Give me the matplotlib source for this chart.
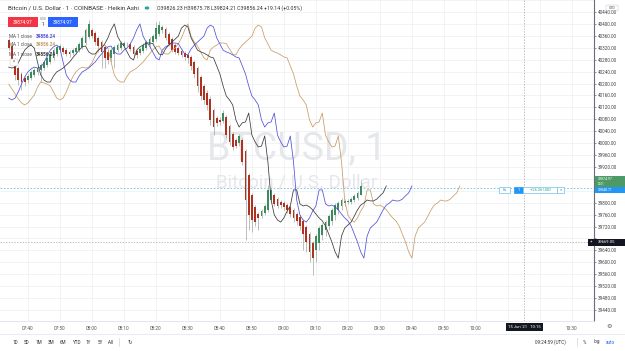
import matplotlib
matplotlib.use("Agg")
import matplotlib.pyplot as plt
from matplotlib.patches import Rectangle, FancyBboxPatch, Circle
import numpy as np

# ---------------- data ----------------
time_labels = ["07:40", "07:50", "08:00", "08:10", "08:20", "08:30", "08:40", "08:50", "09:00",
               "09:10", "09:20", "09:30", "09:40", "09:50", "10:00", "10:10", "10:20", "10:30"]
hidden_time_labels = ["10:10", "10:20"]      # covered by the crosshair date label
price_ticks = [39440 + 40 * i for i in range(26)]
hidden_price_labels = [39680, 39840, 39880]  # covered by the price / crosshair labels

first_bar = -6          # minutes after 07:40 of the first visible Heikin Ashi bar (07:34)

# Heikin Ashi closes of the 31 bars before the visible window (seen only through the offset MAs)
pre_close = [40198, 40182, 40165, 40148, 40135, 40128, 40135, 40148, 40161, 40188,
             40205, 40202, 40198, 40192, 40172, 40151, 40145, 40151, 40172, 40198,
             40222, 40239, 40249, 40255, 40252, 40255, 40269, 40292, 40312, 40323, 40329]

ha_open = [40346, 40326, 40279, 40252, 40232, 40219, 40212, 40219, 40229, 40239,
           40245, 40252, 40262, 40272, 40286, 40299, 40312, 40319, 40312, 40306,
           40302, 40306, 40312, 40323, 40336, 40356, 40380, 40370, 40353, 40339,
           40323, 40306, 40286, 40299, 40312, 40319, 40326, 40331, 40333, 40323, 40309,
           40302, 40309, 40319, 40329, 40339, 40349, 40366, 40380, 40383, 40366,
           40349, 40329, 40319, 40309, 40302, 40296, 40289, 40272, 40252, 40222,
           40192, 40168, 40148, 40111, 40084, 40078, 40074, 40088, 40057, 40031,
           40010, 40000, 40010, 39974, 39893, 39826, 39786, 39762, 39755, 39765,
           39776, 39809, 39826, 39812, 39802, 39799, 39792, 39786, 39776, 39762,
           39752, 39739, 39718, 39695, 39665, 39641, 39665, 39692, 39708, 39722,
           39739, 39759, 39776, 39789, 39799, 39802, 39802, 39809, 39816, 39826.23]
ha_close = [40319, 40272, 40229, 40212, 40205, 40205, 40225, 40239, 40245, 40252,
            40262, 40272, 40286, 40299, 40312, 40323, 40326, 40306, 40299, 40299,
            40312, 40319, 40333, 40353, 40380, 40400, 40359, 40339, 40326, 40306,
            40286, 40279, 40312, 40323, 40329, 40336, 40336, 40334, 40316, 40299, 40296,
            40316, 40329, 40339, 40349, 40359, 40386, 40396, 40390, 40353, 40333,
            40312, 40306, 40302, 40296, 40289, 40286, 40259, 40232, 40192, 40158,
            40145, 40128, 40078, 40054, 40068, 40071, 40101, 40027, 40004, 39987,
            39990, 40024, 39937, 39809, 39759, 39742, 39735, 39749, 39772, 39789,
            39843, 39843, 39796, 39789, 39792, 39786, 39776, 39762, 39749, 39739,
            39722, 39695, 39668, 39635, 39614, 39688, 39715, 39725, 39735, 39755,
            39776, 39792, 39799, 39809, 39806, 39806, 39812, 39823, 39833, 39856.24]
ha_high = [40353, 40333, 40286, 40259, 40239, 40225, 40232, 40245, 40252, 40259,
           40269, 40279, 40292, 40306, 40319, 40329, 40333, 40326, 40319, 40312,
           40319, 40326, 40339, 40359, 40386, 40413, 40386, 40376, 40359, 40346,
           40329, 40312, 40319, 40329, 40336, 40343, 40343, 40340, 40339, 40329, 40316,
           40323, 40336, 40346, 40356, 40366, 40406, 40410, 40396, 40390, 40373,
           40356, 40336, 40326, 40316, 40309, 40302, 40296, 40279, 40259, 40229,
           40198, 40178, 40158, 40118, 40091, 40088, 40111, 40094, 40064, 40037,
           40017, 40031, 40017, 39980, 39900, 39833, 39792, 39769, 39779, 39796,
           39859, 39849, 39833, 39819, 39809, 39806, 39799, 39792, 39782, 39769,
           39759, 39745, 39725, 39702, 39671, 39695, 39722, 39732, 39742, 39762,
           39782, 39799, 39806, 39816, 39812, 39812, 39819, 39829, 39839, 39875.78]
ha_low = [40312, 40266, 40212, 40195, 40178, 40192, 40202, 40212, 40222, 40229,
          40205, 40245, 40255, 40266, 40279, 40292, 40306, 40299, 40292, 40289,
          40296, 40299, 40306, 40316, 40329, 40349, 40353, 40329, 40306, 40252,
          40252, 40266, 40272, 40252, 40306, 40312, 40319, 40326, 40309, 40292, 40286,
          40296, 40302, 40312, 40323, 40333, 40343, 40359, 40370, 40346, 40326,
          40306, 40299, 40296, 40289, 40279, 40269, 40245, 40219, 40172, 40145,
          40131, 40111, 40061, 40027, 40057, 40061, 40068, 40017, 39994, 39977,
          39984, 39990, 39927, 39675, 39708, 39702, 39722, 39708, 39749, 39759,
          39769, 39802, 39789, 39782, 39782, 39776, 39765, 39752, 39735, 39725,
          39708, 39641, 39635, 39601, 39557, 39601, 39641, 39675, 39688, 39708,
          39725, 39742, 39762, 39776, 39789, 39796, 39796, 39802, 39809, 39824.21]

ma_offsets = {"blue": 16, "tan": 31, "black": 8}
ma_colors = {"blue": "#5050d8", "tan": "#c99b66", "black": "#3a3a3a"}
ma_value = "39856.24"
last_price = 39874.97
position_price = 39848.71
cross_price = 39669.05
cross_time = 155        # 10:15
ohlc_text = "O39826.23 H39875.78 L39824.21 C39856.24 +19.14 (+0.05%)"

# ---------------- figure ----------------
W, H = 625, 351
plt.rcParams['font.family'] = ['Roboto', 'DejaVu Sans']
fig = plt.figure(figsize=(W / 100, H / 100), dpi=100)
fig.patch.set_facecolor('white')

PANE_R, PANE_B = 594, 321
ax = fig.add_axes([0, 1 - PANE_B / H, PANE_R / W, PANE_B / H])
ax.set_facecolor('white')
px_per_min = 3.2
x0_pix = 27.9
ax.set_xlim(-x0_pix / px_per_min, (PANE_R - x0_pix) / px_per_min)
ax.set_ylim(40440 - (PANE_B - 12) * 3.356, 40440 + 12 * 3.356)


def fx(x):
    return x / W


def fy(y):
    return 1 - y / H


# grid
for i in range(-1, 19):
    ax.axvline(10 * i, color='#f0f1f4', lw=0.6, zorder=0)
for p in range(39400, 40481, 40):
    ax.axhline(p, color='#f0f1f4', lw=0.6, zorder=0)

# watermark
ax.text(0.5, 0.535, "BTCUSD, 1", transform=ax.transAxes, ha='center', va='center',
        fontsize=27, color='#e6e7ea', zorder=0.5)
ax.text(0.5, 0.43, "Bitcoin / U.S. Dollar", transform=ax.transAxes, ha='center', va='center',
        fontsize=13.5, color='#e6e7ea', zorder=0.5)

# candles
t_vis = np.arange(first_bar, first_bar + len(ha_close))
o = np.array(ha_open); c = np.array(ha_close)
hi = np.array(ha_high); lo = np.array(ha_low)
up = c >= o
col = np.where(up, '#3b8b5c', '#b1311f')
ax.vlines(t_vis, lo, hi, color='#9a9a9a', lw=0.45, zorder=2)
body = np.maximum(np.abs(c - o), 3.0)
ax.bar(t_vis, body, bottom=np.minimum(o, c), width=0.62, color=col, lw=0, zorder=3)

# MA(1, close) lines with forward offsets
all_close = np.array(pre_close + ha_close)
all_t = np.arange(first_bar - len(pre_close), first_bar + len(ha_close))
for name in ["tan", "blue", "black"]:
    tt = all_t + ma_offsets[name]
    m = tt >= first_bar
    ax.plot(tt[m], all_close[m], color=ma_colors[name], lw=0.55, zorder=4)

# position line & crosshair
ax.axhline(position_price, color='#6fc3e6', lw=0.6, ls=(0, (2, 2)), zorder=1)
ax.axhline(cross_price, color='#a0a3ab', lw=0.5, ls=(0, (2, 2)), zorder=1)
ax.axvline(cross_time, color='#a0a3ab', lw=0.5, ls=(0, (2, 2)), zorder=1)

# axes styling
for s in ['top', 'left']:
    ax.spines[s].set_visible(False)
ax.spines['bottom'].set_color('#e0e3eb')
ax.spines['bottom'].set_linewidth(0.6)
ax.spines['right'].set_color('#6a6d78')
ax.spines['right'].set_linewidth(0.8)
ax.yaxis.tick_right()
ax.set_yticks(price_ticks)
ax.set_yticklabels(["" if p in hidden_price_labels else f"{p:.2f}" for p in price_ticks])
ax.tick_params(axis='y', length=1.5, width=0.4, pad=1.5, labelsize=3.3, colors='#444', left=False)
ax.set_xticks([10 * i for i in range(len(time_labels))])
ax.set_xticklabels(["" if s in hidden_time_labels else s for s in time_labels])
ax.tick_params(axis='x', length=0, pad=3.5, labelsize=3.4, colors='#555')

# ---------- overlays in pixel coordinates ----------
def box(x, y, w, h, fc, ec='none', lw=0.5, z=10):
    fig.add_artist(Rectangle((fx(x), fy(y + h)), w / W, h / H, transform=fig.transFigure,
                             facecolor=fc, edgecolor=ec, lw=lw, zorder=z))


def txt(x, y, s, size=3.6, color='#222', ha='left', z=11, **kw):
    fig.text(fx(x), fy(y), s, fontsize=size, color=color, ha=ha, va='center', zorder=z, **kw)


# header
txt(8, 8, "Bitcoin / U.S. Dollar · 1 · COINBASE · Heikin Ashi", 4.5, '#333')
fig.add_artist(Circle((fx(147), fy(8)), 1.6 / W, transform=fig.transFigure, color='#26a69a', zorder=11))
txt(157, 8, ohlc_text, 3.75, '#333')
box(8, 17, 30, 10, '#f23645')
txt(23, 22, f"{last_price:.2f}", 3.4, 'white', ha='center')
txt(43, 18.5, "0.00", 2.4, '#777', ha='center')
txt(43, 24.5, "1", 3.4, '#222', ha='center')
box(48, 17, 30, 10, '#2962ff')
txt(63, 22, f"{last_price:.2f}", 3.4, 'white', ha='center')
for yy, name in zip([36, 45, 54], ["blue", "tan", "black"]):
    txt(9, yy, "MA 1 close", 3.3, '#555')
    txt(36, yy, ma_value, 3.3, ma_colors[name], weight='bold')
fig.add_artist(FancyBboxPatch((fx(10), fy(66)), 8 / W, 7 / H, boxstyle="round,pad=0,rounding_size=0.004",
                              transform=fig.transFigure, facecolor='white', edgecolor='#d0d3da', lw=0.4, zorder=11))
txt(14, 62.5, "^", 3.5, '#444', ha='center')

# right scale labels
txt(612, 8, "USD", 2.6, '#555', ha='center')
fig.add_artist(FancyBboxPatch((fx(606), fy(11)), 12 / W, 6 / H, boxstyle="round,pad=0,rounding_size=0.003",
                              transform=fig.transFigure, facecolor='none', edgecolor='#c8cbd3', lw=0.4, zorder=11))
box(595, 176.5, 30, 10.5, '#4e9a66')
txt(598, 179.2, f"{last_price:.2f}", 2.5, 'white')
txt(598, 184.3, "00:01", 2.0, 'white')
box(595, 187.2, 30, 6, '#2196f3')
txt(598, 190.4, f"{position_price:.2f}", 2.5, 'white')
box(595, 238.5, 30, 7, '#131722')
txt(598, 242, f"{cross_price:.2f}", 3.0, 'white')
box(588, 238.5, 7, 7, '#131722')
txt(591.5, 242, "+", 3.2, 'white', ha='center')

# position widget
box(499, 186.5, 11, 6.5, 'white', ec='#6fc3e6', lw=0.5)
txt(504.5, 189.8, "Fu", 2.8, '#2196f3', ha='center')
box(514, 186.5, 9, 6.5, '#2196f3', ec='#2196f3')
txt(518.5, 189.8, "1", 2.8, 'white', ha='center')
box(523, 186.5, 34, 6.5, 'white', ec='#6fc3e6', lw=0.5)
txt(540, 189.8, "+26.26 USD", 2.9, '#26a69a', ha='center')
box(557, 186.5, 7, 6.5, 'white', ec='#6fc3e6', lw=0.5)
txt(560.5, 189.8, "×", 3.2, '#2196f3', ha='center')

# time axis crosshair label
box(506, 323, 37, 8, '#131722')
txt(524.5, 327, "15 Jun '21   10:15", 3.1, 'white', ha='center')
txt(609, 327, "⚙", 4.5, '#555', ha='center', family='DejaVu Sans')

# bottom toolbar
fig.add_artist(plt.Line2D([0, 1], [fy(334), fy(334)], transform=fig.transFigure, color='#e0e3eb', lw=0.5))
for xx, s in zip([15, 27, 39, 51, 63, 76, 88, 100, 111],
                 ["1D", "5D", "1M", "3M", "6M", "YTD", "1Y", "5Y", "All"]):
    txt(xx, 342, s, 3.3, '#333', ha='center')
fig.add_artist(plt.Line2D([fx(119), fx(119)], [fy(338), fy(346)], transform=fig.transFigure, color='#d0d3da', lw=0.5))
txt(130, 342, "↻", 4, '#444', ha='center', family='DejaVu Sans')
txt(550, 342, "09:24:59 (UTC)", 3.3, '#333', ha='center')
fig.add_artist(plt.Line2D([fx(577), fx(577)], [fy(338), fy(346)], transform=fig.transFigure, color='#d0d3da', lw=0.5))
txt(584, 342, "%", 3.3, '#333', ha='center')
txt(597, 342, "log", 3.3, '#333', ha='center')
txt(610, 342, "auto", 3.3, '#2962ff', ha='center')

fig.savefig("out.png", dpi=100, facecolor='white')
